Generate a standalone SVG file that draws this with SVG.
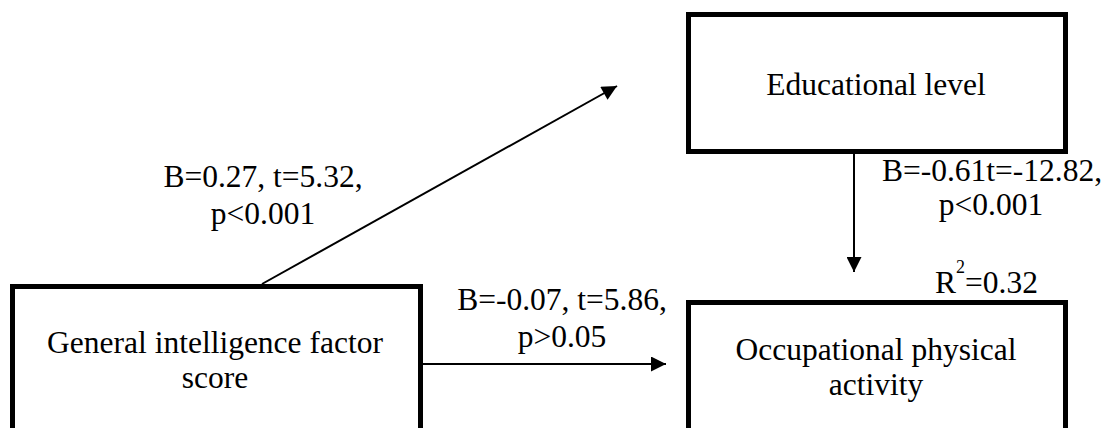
<svg xmlns="http://www.w3.org/2000/svg" width="1108" height="428" viewBox="0 0 1108 428">
<defs>
<style>
.box{fill:#fff;stroke:#000;stroke-width:5}
.t{font-family:'Liberation Serif','Tinos','Times New Roman','DejaVu Serif',serif;font-size:31.5px;fill:#000;text-anchor:middle}
.c{stroke:#000;stroke-width:2;fill:none;marker-end:url(#ah)}
</style>
<marker id="ah" viewBox="0 0 16 16" refX="16" refY="8" markerWidth="16" markerHeight="15" markerUnits="userSpaceOnUse" orient="auto">
<path d="M0,0 L16,8 L0,16 z" fill="#000"/>
</marker>
</defs>
<rect width="1108" height="428" fill="#fff"/>
<g id="connectors">
<line class="c" x1="262" y1="284" x2="617" y2="86"/>
<line class="c" x1="854" y1="154" x2="854" y2="272"/>
<line class="c" x1="423" y1="364" x2="666" y2="364"/>
</g>
<g id="labels" font-family="Liberation Serif, serif">
<text class="t" x="263" y="187">B=0.27, t=5.32,</text>
<text class="t" x="263" y="224">p&lt;0.001</text>
<text class="t" x="562" y="310">B=-0.07, t=5.86,</text>
<text class="t" x="562" y="347">p&gt;0.05</text>
<text class="t" x="992" y="181">B=-0.61t=-12.82,</text>
<text class="t" x="991" y="215">p&lt;0.001</text>
<text class="t" x="935" y="293" style="text-anchor:start">R<tspan font-size="18" dy="-20">2</tspan><tspan dy="20">=0.32</tspan></text>
</g>
<g id="node-general">
<rect class="box" x="12.5" y="286.5" width="408" height="200"/>
<text class="t" x="215" y="353">General intelligence factor</text>
<text class="t" x="215" y="388">score</text>
</g>
<g id="node-education">
<rect class="box" x="688.5" y="14.5" width="377" height="137"/>
<text class="t" x="876" y="95">Educational level</text>
</g>
<g id="node-occupational">
<rect class="box" x="688.5" y="302.5" width="377" height="200"/>
<text class="t" x="876" y="360">Occupational physical</text>
<text class="t" x="876" y="395">activity</text>
</g>
</svg>
